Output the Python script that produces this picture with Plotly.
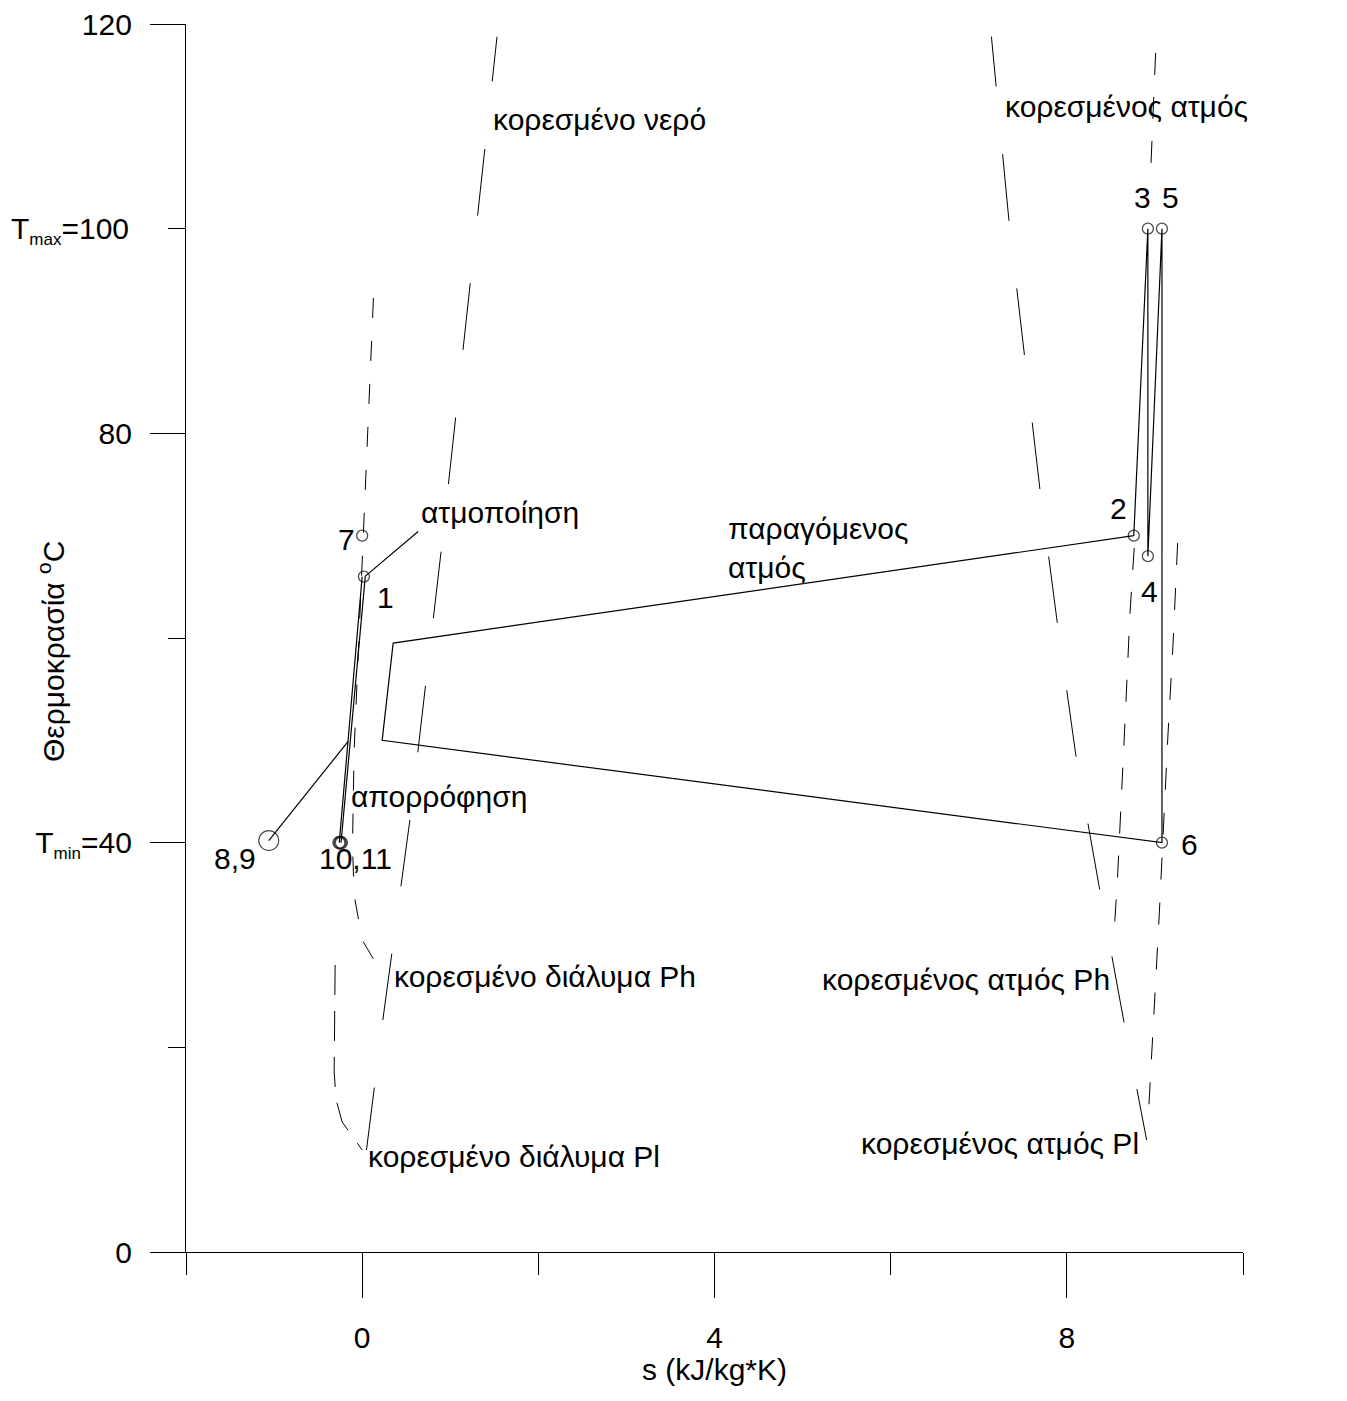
import plotly.graph_objects as go

# ---------------- data ----------------
# state points of the cycle (entropy s, temperature T)
state_names = ["1", "2", "3", "4", "5", "6", "7", "8,9", "10", "11"]
state_s = [0.02, 8.76, 8.92, 8.92, 9.08, 9.08, 0.0, -1.06, -0.26, -0.24]
state_T = [66.0, 70.0, 100.0, 68.0, 100.0, 40.0, 70.0, 40.2, 40.0, 40.0]

# closed loop 2-3-4-5-6 -> absorber side -> 2
cycle_s = [8.76, 8.92, 8.92, 9.08, 9.08, 0.227, 0.352, 8.76]
cycle_T = [70.0, 100.0, 68.0, 100.0, 40.0, 50.0, 59.5, 70.0]

# pump lines 10 -> 1 and 11 -> 1
pump_s = [-0.26, 0.0, None, -0.24, 0.035]
pump_T = [40.0, 66.0, None, 40.0, 66.0]

# leader lines for the labels
leader_s = [0.03, 0.636, None, -1.06, -0.159]
leader_T = [66.0, 70.4, None, 40.2, 49.9]

# saturation curves (dashed)
water_s = [1.531, 1.231, 0.898, 0.545, 0.239, 0.049]
water_T = [118.76, 94.69, 68.60, 42.41, 22.96, 9.97]

sol_ph_s = [0.128, 0.034, -0.045, -0.091, -0.110, -0.091, 0.0, 0.148, 0.273]
sol_ph_T = [93.23, 74.27, 58.63, 49.06, 39.77, 34.89, 30.49, 28.34, 27.07]

sol_pl_s = [-0.307, -0.318, -0.318, -0.295, -0.227, 0.0]
sol_pl_T = [28.05, 21.69, 17.59, 14.85, 12.70, 9.97]

vap_s = [7.144, 7.344, 7.693, 7.890, 8.102, 8.367, 8.640, 8.906]
vap_T = [118.76, 100.68, 74.66, 61.60, 48.57, 35.70, 22.87, 10.94]

vap_ph_s = [8.765, 8.716, 8.670, 8.622, 8.572, 8.538]
vap_ph_T = [68.80, 62.25, 53.55, 44.66, 35.96, 31.47]

vap_pl_s = [9.258, 9.205, 9.148, 9.102, 9.049, 8.994, 8.932]
vap_pl_T = [69.28, 59.32, 50.52, 41.73, 32.93, 24.14, 14.37]

vap_top_s = [9.008, 8.955]
vap_top_T = [117.17, 106.22]

# axis ticks
SUB = '<sub><span style="font-size:17px">{}</span></sub>'
x_major = [0, 4, 8]
x_minor = [-2, 2, 6, 10]
y_major = [0, 40, 80, 120]
y_major_text = ["0", "T" + SUB.format("min") + "=40", "80", "120"]
y_minor = [20, 60]
y_tmax = [100]
y_tmax_text = ["T" + SUB.format("max") + "=100"]

# text labels: (text, s, T, xanchor)
label_text = ["κορεσμένο νερό", "κορεσμένος ατμός", "3", "5", "υπέρθερμος<br>ατμός",
              "2", "4", "6", "παραγόμενος<br>ατμός", "ατμοποίηση", "7", "1",
              "απορρόφηση", "8,9", "10,11", "κορεσμένο διάλυμα Ph",
              "κορεσμένο διάλυμα Pl", "κορεσμένος ατμός Ph", "κορεσμένος ατμός Pl"]
label_s = [2.693, 8.68, 8.86, 9.18, 10.08, 8.59, 8.94, 9.39, 4.136, 1.568, -0.18, 0.26,
           0.875, -1.44, -0.08, 2.07, 1.727, 6.85, 7.24]
label_T = [110.7, 111.9, 103.0, 103.0, 82.2, 72.7, 64.5, 39.8, 68.8, 72.3, 69.6, 64.0,
           44.5, 38.5, 38.5, 26.9, 9.3, 26.6, 10.65]
label_anchor = ["center", "center", "center", "center", "center", "center", "center",
                "center", "left", "center", "center", "center", "center", "center",
                "center", "center", "center", "center", "center"]

# ---------------- figure ----------------
FONT = "Liberation Sans, Arial, sans-serif"
FS = 30
BLACK = "black"

fig = go.Figure()

def line(xs, ys, dash="solid", width=1.2):
    fig.add_trace(go.Scatter(x=xs, y=ys, mode="lines", line=dict(color=BLACK, width=width, dash=dash),
                             hoverinfo="skip", showlegend=False))

long_dash_w = "45px,68px" + ",67px,68px" * 12
long_dash_v = "50px,68px" + ",67px,68px" * 12
line(water_s, water_T, long_dash_w, 1.0)
line(vap_s, vap_T, long_dash_v, 1.0)
line(sol_ph_s, sol_ph_T, "20px,23px", 1.0)
line(sol_pl_s, sol_pl_T, "30px,16px", 1.0)
line(vap_ph_s, vap_ph_T, "22px,22px", 1.0)
line(vap_pl_s, vap_pl_T, "22px,23px", 1.0)
line(vap_top_s, vap_top_T, "22px,22px", 1.0)

line(cycle_s, cycle_T)
line(pump_s, pump_T)
line(leader_s, leader_T)

sizes = [11, 11, 11, 11, 11, 11, 11, 20, 12, 12]
widths = [1.3] * 7 + [1.2, 2.0, 2.0]
fig.add_trace(go.Scatter(x=state_s, y=state_T, mode="markers", text=state_names,
                         marker=dict(symbol="circle-open", size=sizes, color=BLACK,
                                     line=dict(width=widths, color=BLACK)),
                         hoverinfo="text", showlegend=False))

# invisible trace on the overlay axis (for the T_max tick)
fig.add_trace(go.Scatter(x=[None], y=[None], yaxis="y2", showlegend=False, hoverinfo="skip"))

for t, s, T, a in zip(label_text, label_s, label_T, label_anchor):
    fig.add_annotation(x=s, y=T, text=t, showarrow=False, xanchor=a, yanchor="middle",
                       align=a if a != "center" else "center",
                       font=dict(family=FONT, size=FS, color=BLACK))

# axis titles
fig.add_annotation(xref="paper", yref="paper", x=-0.1277, y=0.4886, xanchor="center", yanchor="middle",
                   text="Θερμοκρασία <sup>o</sup>C",
                   textangle=-90, showarrow=False, font=dict(family=FONT, size=FS, color=BLACK))
fig.add_annotation(xref="x", yref="paper", x=4.0, y=-0.0955, xanchor="center", yanchor="middle",
                   text="s (kJ/kg*K)",
                   showarrow=False, font=dict(family=FONT, size=FS, color=BLACK))

fig.update_layout(
    width=1347, height=1401,
    margin=dict(l=186, r=104, t=24, b=149, pad=0, autoexpand=False),
    paper_bgcolor="white", plot_bgcolor="white",
    font=dict(family=FONT, size=FS, color=BLACK),
    xaxis=dict(range=[-2, 10], tickvals=x_major, ticktext=[str(v) for v in x_major],
               ticks="outside", ticklen=45, tickwidth=1, tickcolor=BLACK,
               ticklabelstandoff=14, automargin=False,
               minor=dict(tickvals=x_minor, ticks="outside", ticklen=22, tickwidth=1, tickcolor=BLACK),
               showline=True, linecolor=BLACK, linewidth=1.2, showgrid=False, zeroline=False,
               tickfont=dict(family=FONT, size=FS, color=BLACK)),
    yaxis=dict(range=[0, 120], tickvals=y_major, ticktext=y_major_text,
               ticks="outside", ticklen=35, tickwidth=1, tickcolor=BLACK,
               ticklabelstandoff=12, automargin=False,
               minor=dict(tickvals=y_minor, ticks="outside", ticklen=17, tickwidth=1, tickcolor=BLACK),
               showline=True, linecolor=BLACK, linewidth=1.2, showgrid=False, zeroline=False,
               tickfont=dict(family=FONT, size=FS, color=BLACK)),
    yaxis2=dict(range=[0, 120], overlaying="y", side="left", anchor="x",
                tickvals=y_tmax, ticktext=y_tmax_text,
                ticks="outside", ticklen=17, tickwidth=1, tickcolor=BLACK,
                ticklabelstandoff=33, automargin=False,
                showline=False, showgrid=False, zeroline=False,
                tickfont=dict(family=FONT, size=FS, color=BLACK)),
)

fig.write_html("out.html")
